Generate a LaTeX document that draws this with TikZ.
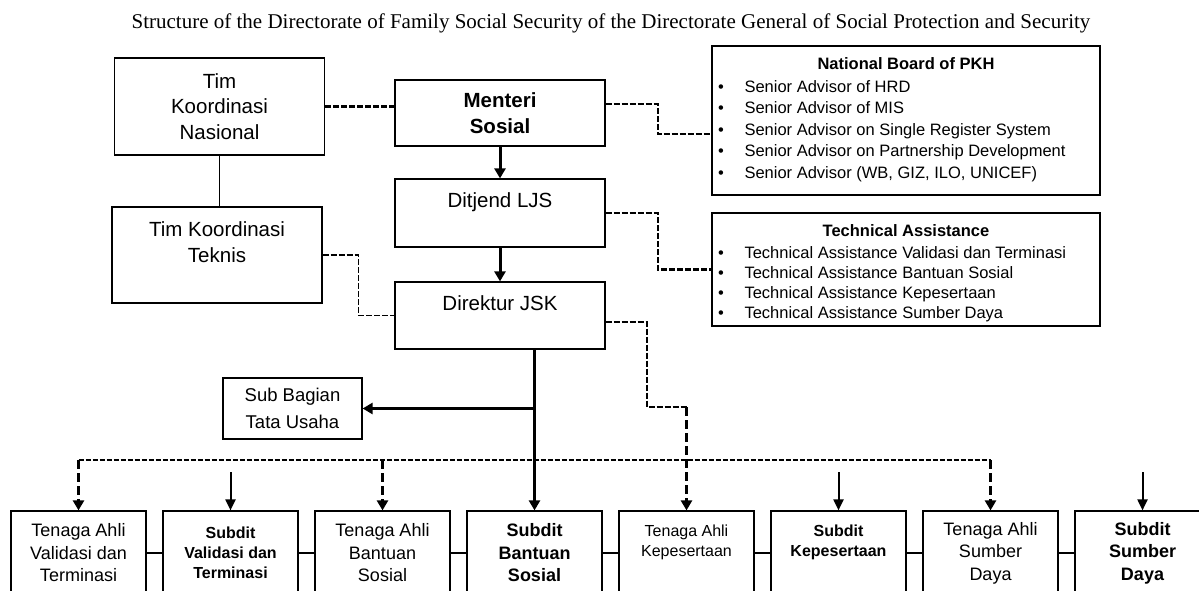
\documentclass[tikz,border=0pt]{standalone}
\usepackage{fontspec}
\setmainfont{Liberation Serif}
\newfontfamily\arialfont{Liberation Sans}
\usetikzlibrary{arrows.meta}
\begin{document}
\begin{tikzpicture}[x=1pt,y=-1pt,
	box/.style={draw,line width=1.2pt,inner sep=0pt,align=center},
	mainbox/.style={box,minimum width=210pt,font=\myfontmain},
	sidebox/.style={box,minimum width=388pt},
	lowbox/.style={box,minimum width=135pt,minimum height=84pt,font=\myfontlow},
	lowsmall/.style={lowbox,font=\myfontsmall},
	bigarrow/.style={line width=3pt,-{Triangle[width=11pt,length=10pt]}},
	thinarrow/.style={line width=2pt,-{Triangle[width=10pt,length=11pt]}},
	dasharrow/.style={line width=3pt,dash pattern=on 9pt off 4pt,-{Triangle[width=11pt,length=10pt]}},
	dashlink/.style={line width=2.2pt,dash pattern=on 6pt off 2pt},
	dashline/.style={line width=2pt,dash pattern=on 5pt off 2pt}]
	\newcommand{\myfontmain}{\arialfont\fontsize{20.5}{25.5}\selectfont}
	\newcommand{\myfontside}{\arialfont\fontsize{16.5}{20}\selectfont}
	\newcommand{\myfontlow}{\arialfont\fontsize{18}{22.5}\selectfont}
	\newcommand{\myfontsmall}{\arialfont\fontsize{16}{20}\selectfont}
	\newcommand{\myfontsub}{\arialfont\fontsize{18.5}{27}\selectfont}
	\newcommand{\myfonttitle}{\fontsize{21}{25}\selectfont}
	\useasboundingbox (0,0) rectangle (1199,590);
	%Title
	\node (title) at (611,23) {\myfonttitle Structure of the Directorate of Family Social Security of the Directorate General of Social Protection and Security};
	%Main column
	\node [mainbox,minimum height=97pt] (tkn) at (219.5,106.5) {Tim\\Koordinasi\\Nasional};
	\node [mainbox,minimum height=66pt,font=\myfontmain\bfseries] (men) at (500,113) {Menteri\\Sosial};
	\node [mainbox,minimum height=68pt] (dit) at (500,213) {Ditjend LJS\\\mbox{}};
	\node [mainbox,minimum height=67pt] (dir) at (500,315.5) {Direktur JSK\\\mbox{}};
	\node [mainbox,minimum height=96pt] (tkt) at (217,255) {Tim Koordinasi\\Teknis\\\mbox{}};
	\node [box,minimum width=139pt,minimum height=61pt,font=\myfontsub] (sub) at (292.5,408.5) {Sub Bagian\\Tata Usaha};
	%National Board of PKH
	\node [sidebox,minimum height=149pt] (nb) at (906,120.5) {};
	\node [font=\myfontside\bfseries] (nbhead) at (906,64) {National Board of PKH};
	\foreach \txt [count=\i] in {Senior Advisor of HRD,Senior Advisor of MIS,Senior Advisor on Single Register System,Senior Advisor on Partnership Development,{Senior Advisor (WB, GIZ, ILO, UNICEF)}} {
		\node [font=\myfontside,anchor=base] (nbdot\i) at (721,{70.5+21.5*\i}) {\textbullet};
		\node [font=\myfontside,anchor=base west] (nbitem\i) at (741,{70.5+21.5*\i}) {\txt};
	}
	%Technical Assistance
	\node [sidebox,minimum height=113pt] (ta) at (906,269.5) {};
	\node [font=\myfontside\bfseries] (tahead) at (906,231) {Technical Assistance};
	\foreach \txt [count=\i] in {Technical Assistance Validasi dan Terminasi,Technical Assistance Bantuan Sosial,Technical Assistance Kepesertaan,Technical Assistance Sumber Daya} {
		\node [font=\myfontside,anchor=base] (tadot\i) at (721,{237.7+20.3*\i}) {\textbullet};
		\node [font=\myfontside,anchor=base west] (taitem\i) at (741,{237.7+20.3*\i}) {\txt};
	}
	%Bottom row
	\node [lowbox] (b1) at (78.5,553) {Tenaga Ahli\\Validasi dan\\Terminasi};
	\node [lowsmall,font=\myfontsmall\bfseries] (b2) at (230.5,553) {Subdit\\Validasi dan\\Terminasi};
	\node [lowbox] (b3) at (382.5,553) {Tenaga Ahli\\Bantuan\\Sosial};
	\node [lowbox,font=\myfontlow\bfseries] (b4) at (534.5,553) {Subdit\\Bantuan\\Sosial};
	\node [lowsmall] (b5) at (686.5,553) {Tenaga Ahli\\Kepesertaan\\[4pt]\mbox{}};
	\node [lowsmall,font=\myfontsmall\bfseries] (b6) at (838.5,553) {Subdit\\Kepesertaan\\[4pt]\mbox{}};
	\node [lowbox] (b7) at (990.5,553) {Tenaga Ahli\\Sumber\\Daya};
	\node [lowbox,font=\myfontlow\bfseries] (b8) at (1142.5,553) {Subdit\\Sumber\\Daya};
	\foreach \a/\b in {1/2,2/3,3/4,4/5,5/6,6/7,7/8} {
		\draw [line width=1.5pt] (b\a.east) -- (b\b.west);
	}
	%Lines on the left
	\draw [dashlink] (tkn.east) -- (tkn.east -| men.west);
	\draw [line width=1.2pt] (tkn.south) -- (tkn.south |- tkt.north);
	\draw [dashlink,line width=1.6pt] (tkt.east) -- ++(36,0) |- (dir.west);
	\draw [bigarrow] (men.south) -- (dit.north);
	\draw [bigarrow] (dit.south) -- (dir.north);
	%Lines on the right
	\draw [dashlink] ([yshift=9pt]men.east) -- ++(52,0) |- ([yshift=-13.5pt]nb.west);
	\draw [dashlink] (dit.east) -- ++(52,0) |- (ta.west);
	\coordinate (kepbend) at (647,407);
	\draw [dashlink] ([yshift=-6.5pt]dir.east) -| (kepbend) -- (kepbend -| b5.north);
	\draw [dasharrow] (kepbend -| b5.north) -- (b5.north);
	%Solid line down to the subdit
	\draw [bigarrow] (dir.south -| b4.north) -- (b4.north);
	\draw [bigarrow] (sub.east -| b4.north) -- (sub.east);
	%Dashed line over the bottom row
	\coordinate (dline) at (0,460);
	\draw [dashline] (dline -| b1.north) -- (dline -| b7.north);
	\foreach \b in {1,3,7} {
		\draw [dasharrow] (dline -| b\b.north) -- (b\b.north);
	}
	\foreach \b in {2,6,8} {
		\coordinate (top\b) at ([yshift=38pt]b\b.north);
		\draw [thinarrow] (top\b) -- (b\b.north);
	}
\end{tikzpicture}
\end{document}
